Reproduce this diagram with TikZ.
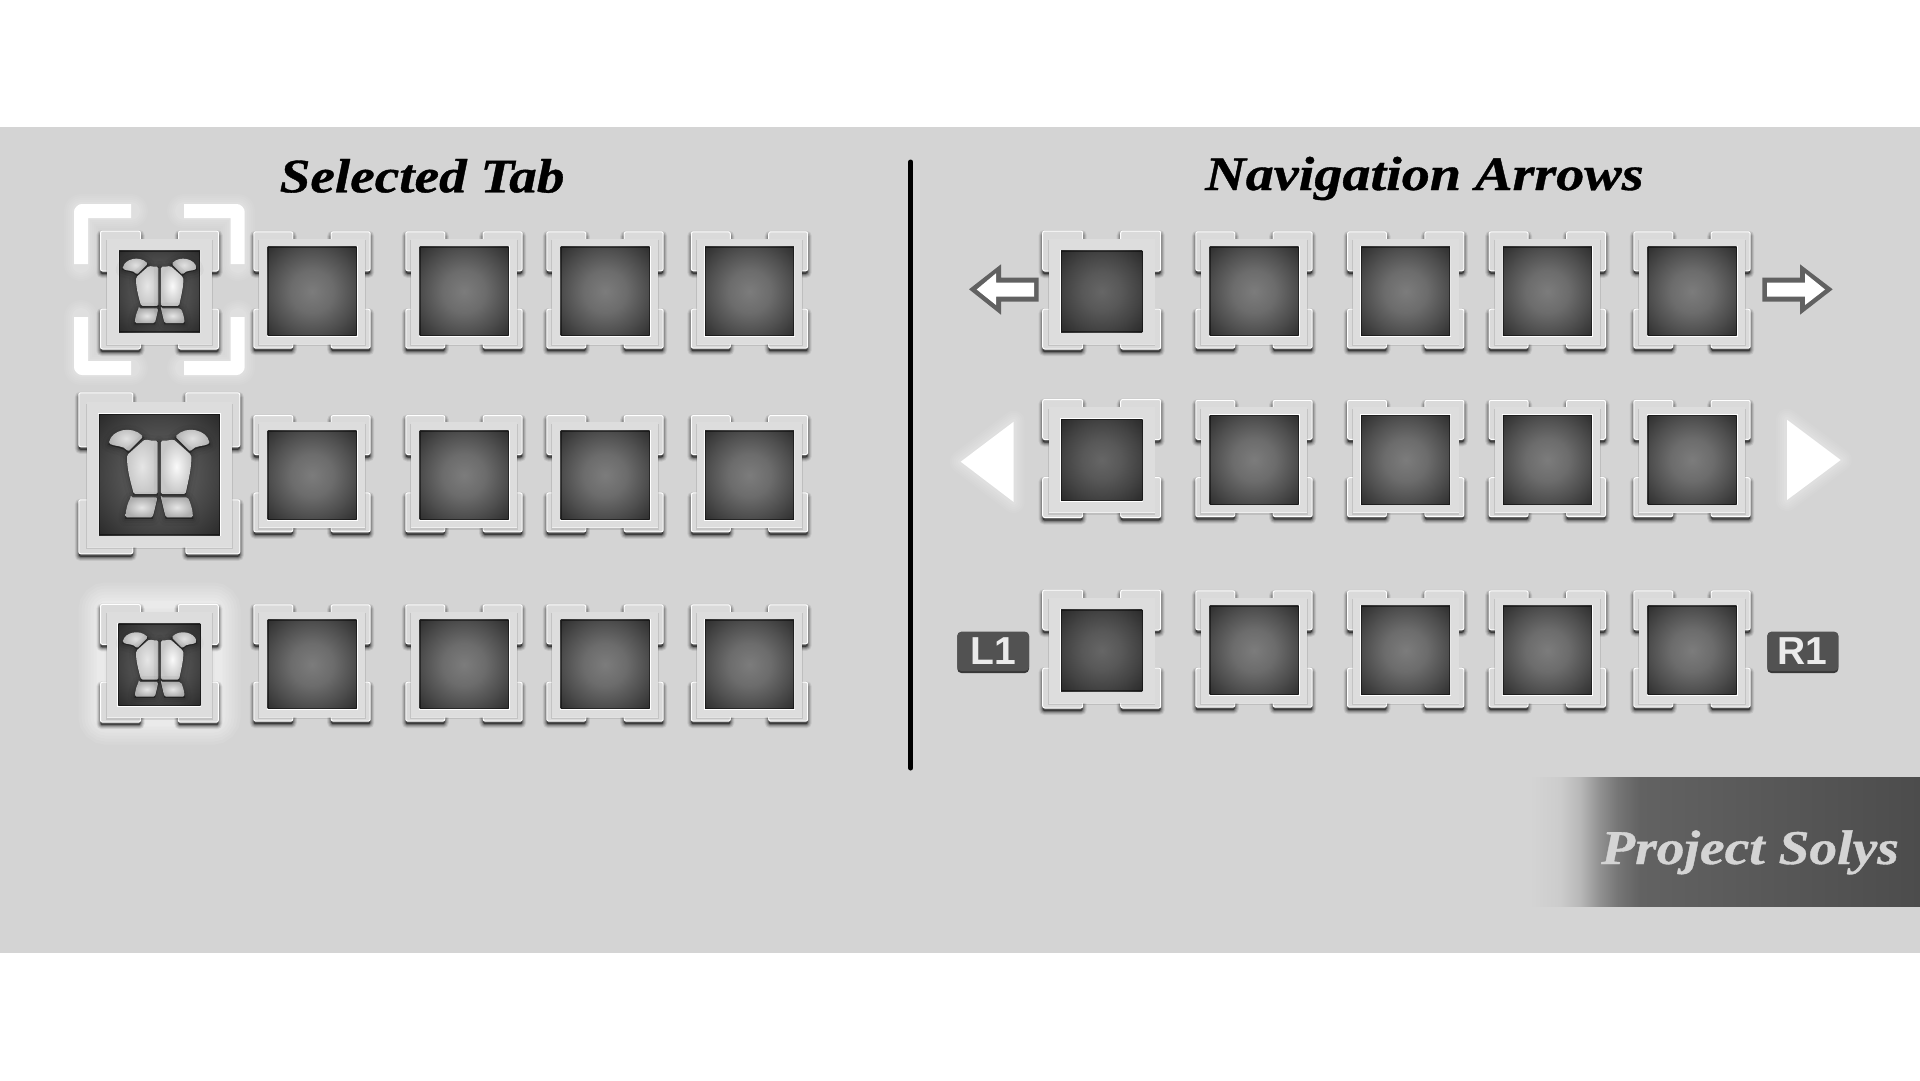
\documentclass[tikz,border=0pt]{standalone}
\usepackage{fontspec}
\setmainfont{Liberation Serif}
\setsansfont{Liberation Sans}
\newfontfamily\titlefontA[FakeStretch=1.15,FakeBold=0.8]{Liberation Serif Bold Italic}
\newfontfamily\titlefontB[FakeStretch=1.17,FakeBold=0.8]{Liberation Serif Bold Italic}
\newfontfamily\brandfont[FakeStretch=1.145,FakeBold=0.8]{Liberation Serif Bold Italic}
\definecolor{bandgray}{HTML}{D4D4D4}
\definecolor{platec}{HTML}{DDDDDD}
\definecolor{bracketc}{HTML}{DADADA}
\definecolor{nA}{HTML}{7C7C7C}\definecolor{nB}{HTML}{6C6C6C}\definecolor{nC}{HTML}{505050}\definecolor{nD}{HTML}{2E2E2E}
\definecolor{dA}{HTML}{666666}\definecolor{dB}{HTML}{585858}\definecolor{dC}{HTML}{444444}\definecolor{dD}{HTML}{2A2A2A}
\definecolor{b0}{HTML}{D4D4D4}\definecolor{b1}{HTML}{CCCCCC}\definecolor{b2}{HTML}{B8B8B8}\definecolor{b3}{HTML}{909090}\definecolor{b4}{HTML}{767676}\definecolor{b5}{HTML}{626262}\definecolor{b6}{HTML}{4C4C4C}
\pgfdeclareradialshading{tileN}{\pgfpoint{0bp}{0bp}}{color(0bp)=(nA);color(12bp)=(nB);color(23bp)=(nC);color(35.4bp)=(nD);color(50bp)=(nD)}
\pgfdeclareradialshading{tileD}{\pgfpoint{0bp}{0bp}}{color(0bp)=(dA);color(12bp)=(dB);color(23bp)=(dC);color(35.4bp)=(dD);color(50bp)=(dD)}
\pgfdeclarehorizontalshading{bannershade}{100bp}{color(0bp)=(b0);color(25bp)=(b0);color(28.8bp)=(b1);color(31.4bp)=(b2);color(34bp)=(b3);color(36.2bp)=(b4);color(39.1bp)=(b5);color(75bp)=(b6);color(100bp)=(b6)}
\tikzset{
  titletext/.style={anchor=base west,inner sep=0pt,text=black},
  badge/.style={fill=#1,rounded corners=4pt},
  badgetext/.style={inner sep=0pt,text=white!92!black,font=\sffamily\bfseries\fontsize{39}{39}\selectfont},
  markstroke/.style={line width=14pt,white,line cap=round,line join=round},
}
% tile: cx, cy, outer half, plate half, inner half, arm, shading
\newcommand{\brkpath}[2]{(-#1,-#1) rectangle (-#1+#2,-#1+#2) (#1-#2,-#1) rectangle (#1,-#1+#2) (-#1,#1-#2) rectangle (-#1+#2,#1) (#1-#2,#1-#2) rectangle (#1,#1)}
\newcommand{\tile}[7]{%
\begin{scope}[shift={(#1,#2)}]
  \foreach \lw/\op in {8/.08,6/.11,4/.15,2/.22}{
    \draw[black,fill=black,opacity=\op,line width=\lw pt,rounded corners=2pt,shift={(0,3)}] \brkpath{#3}{#6};
  }
  \draw[white,fill=bracketc,line width=1pt,rounded corners=2pt] \brkpath{#3}{#6};
  \begin{scope}[shift={(0,1.4)}]
    \fill[black,opacity=.10,shift={(0,1.4)}] (-#4-.8,-#4) rectangle (#4+.8,#4+.6);
    \fill[platec] (-#4,-#4) rectangle (#4,#4);
    \draw[white,opacity=.55,line width=1pt] (-#4,#4) -- (#4,#4);
    \draw[white,line width=1pt] (-#5-.5,-#5-.5) rectangle (#5+.5,#5+.5);
    \shade[shading=#7] (-#5,-#5) rectangle (#5,#5);
    \draw[black,opacity=.45,line width=.8pt] (-#5+.4,-#5+.4) rectangle (#5-.4,#5-.4);
  \end{scope}
\end{scope}}
\newcommand{\piece}[3]{%
  \foreach \lw/\op in {14/.03,8/.05,4/.07}{\draw[black,fill=black,opacity=\op,line width=\lw pt,line join=round,shift={(0,5)}] #3;}
  \draw[black,opacity=.25,line width=1pt,shift={(0,3)}] #3;
  \shade[inner color=#1,outer color=#2,rounded corners=1.5pt] #3;}
\newcommand{\armour}[3]{%
\begin{scope}[shift={(#1,#2)},x=#3pt,y=-#3pt]
\begin{scope}[shift={(-298,-286)}]
  \piece{black!12}{black!30}{(147,190) .. controls (155,150) and (215,135) .. (250,170) -- (205,215) .. controls (190,195) and (165,200) .. cycle}
  \piece{black!12}{black!30}{(449,190) .. controls (441,150) and (381,135) .. (346,170) -- (391,215) .. controls (406,195) and (431,200) .. cycle}
  \piece{black!10}{black!22}{(255,178) .. controls (268,182) and (280,182) .. (293,182) -- (293,342) -- (222,342) .. controls (210,300) and (200,260) .. (202,225) -- cycle}
  \piece{black!2}{black!22}{(341,178) .. controls (328,182) and (316,182) .. (303,182) -- (303,342) -- (377,342) .. controls (386,300) and (396,260) .. (394,225) -- cycle}
  \piece{black!10}{black!32}{(213,352) -- (293,352) .. controls (288,372) and (284,392) .. (278,412) -- (197,412) .. controls (197,390) and (205,365) .. cycle}
  \piece{black!10}{black!32}{(303,352) -- (383,352) .. controls (391,365) and (399,390) .. (399,412) -- (318,412) .. controls (312,392) and (308,372) .. cycle}
\end{scope}
\end{scope}}
\begin{document}
\begin{tikzpicture}[x=1pt,y=-1pt]
\useasboundingbox (0,0) rectangle (1920,1080);
\fill[white] (0,0) rectangle (1920,1080);
\fill[bandgray] (0,127.3) rectangle (1920,952.7);

% banner
\shade[shading=bannershade] (1530,777.5) rectangle (1920,906.5);
\node[anchor=base west,inner sep=0pt,text=bandgray,font=\brandfont\fontsize{48.5}{48.5}\selectfont] (brand) at (1601,864) {Project Solys};

% titles
\node[titletext,font=\titlefontA\fontsize{48}{48}\selectfont] (leftTitle) at (279.5,192.3) {Selected Tab};
\node[titletext,font=\titlefontB\fontsize{48}{48}\selectfont] (rightTitle) at (1205,190) {Navigation Arrows};

% divider
\draw[black,line width=5pt,line cap=round] (910.8,162) coordinate (divA) -- (910.8,768) coordinate (divB);

% selected variant 1: white corner marks
\foreach \lw/\op in {34/.05,30/.06,26/.07,22/.08,18/.09}{
  \draw[white,opacity=\op,line width=\lw pt,line join=round,line cap=round]
    (81,264) -- (81,211) -- (131,211) (184,211) -- (237.7,211) -- (237.7,264)
    (81,317) -- (81,368) -- (131,368) (184,368) -- (237.7,368) -- (237.7,317);
}
\tile{159.5}{290}{59}{52.8}{40.7}{40}{tileD}
\armour{159.7}{292.2}{.245}
\draw[markstroke,line cap=butt,rounded corners=1pt]
  (81,264) -- (81,211) -- (131,211);
\draw[markstroke,line cap=butt,rounded corners=1pt]
  (184,211) -- (237.7,211) -- (237.7,264);
\draw[markstroke,line cap=butt,rounded corners=1pt]
  (81,317) -- (81,368) -- (131,368);
\draw[markstroke,line cap=butt,rounded corners=1pt]
  (184,368) -- (237.7,368) -- (237.7,317);

% selected variant 2: enlarged
\tile{159.3}{473.3}{80.5}{72.6}{60.5}{54}{tileD}
\armour{159.2}{475.3}{.3333}

% selected variant 3: glow
\foreach \lw/\op in {44/.07,38/.08,32/.09,26/.10,20/.12,14/.14,8/.16}{
  \draw[white,opacity=\op,line width=\lw pt,rounded corners=6pt] (100.5,604.5) rectangle (218.5,722.5);
}
\tile{159.4}{663.3}{58.9}{52.8}{41}{40}{tileD}
\armour{159.7}{665.8}{.245}

% left normal tiles
\foreach \cy in {290,473.7,663}{
  \foreach \cx in {312,464,605,749.5}{
    \tile{\cx}{\cy}{58.2}{52.8}{44.5}{39}{tileN}
  }
}

% right tiles
\foreach \cy in {290,458.5,649}{
  \tile{1101.7}{\cy}{59}{52.8}{40.7}{40}{tileD}
  \foreach \cx in {1254,1405.7,1547.3,1692}{
    \tile{\cx}{\cy}{58.2}{52.8}{44.5}{39}{tileN}
  }
}

% outlined arrows
\fill[black!62] (969,289.3) -- (1001,264.3) -- (1001,277.7) -- (1038.7,277.7) -- (1038.7,301.7) -- (1001,301.7) -- (1001,314.7) -- cycle;
\fill[white] (976.7,289.5) -- (996,273.3) -- (996,282.7) -- (1034,282.7) -- (1034,296.7) -- (996,296.7) -- (996,305) -- cycle;
\fill[black!62] (1832.7,289.3) -- (1800,264.3) -- (1800,277.7) -- (1762.3,277.7) -- (1762.3,301.7) -- (1800,301.7) -- (1800,314.7) -- cycle;
\fill[white] (1825,289.5) -- (1805,273.3) -- (1805,282.7) -- (1767,282.7) -- (1767,296.7) -- (1805,296.7) -- (1805,305) -- cycle;

% glowing triangles
\foreach \lw/\op in {22/.05,18/.06,14/.07,10/.08,6/.10}{
  \draw[white,opacity=\op,line width=\lw pt,line join=round] (960.7,461.7) -- (1013.7,421.7) -- (1013.7,502) -- cycle;
  \draw[white,opacity=\op,line width=\lw pt,line join=round] (1840.7,460) -- (1787,419.7) -- (1787,500) -- cycle;
}
\fill[white] (960.7,461.7) -- (1013.7,421.7) -- (1013.7,502) -- cycle;
\fill[white] (1840.7,460) -- (1787,419.7) -- (1787,500) -- cycle;

% shoulder button badges
\fill[badge=black!78] (957.3,632) rectangle (1029,673);
\fill[badge=black!68] (957.3,631.7) rectangle (1029,671);
\node[badgetext] (btnL) at (993,651.5) {L1};
\fill[badge=black!78] (1767.3,632) rectangle (1838.3,673);
\fill[badge=black!68] (1767.3,631.7) rectangle (1838.3,671);
\node[badgetext] (btnR) at (1802.5,651.5) {R1};
\end{tikzpicture}
\end{document}
